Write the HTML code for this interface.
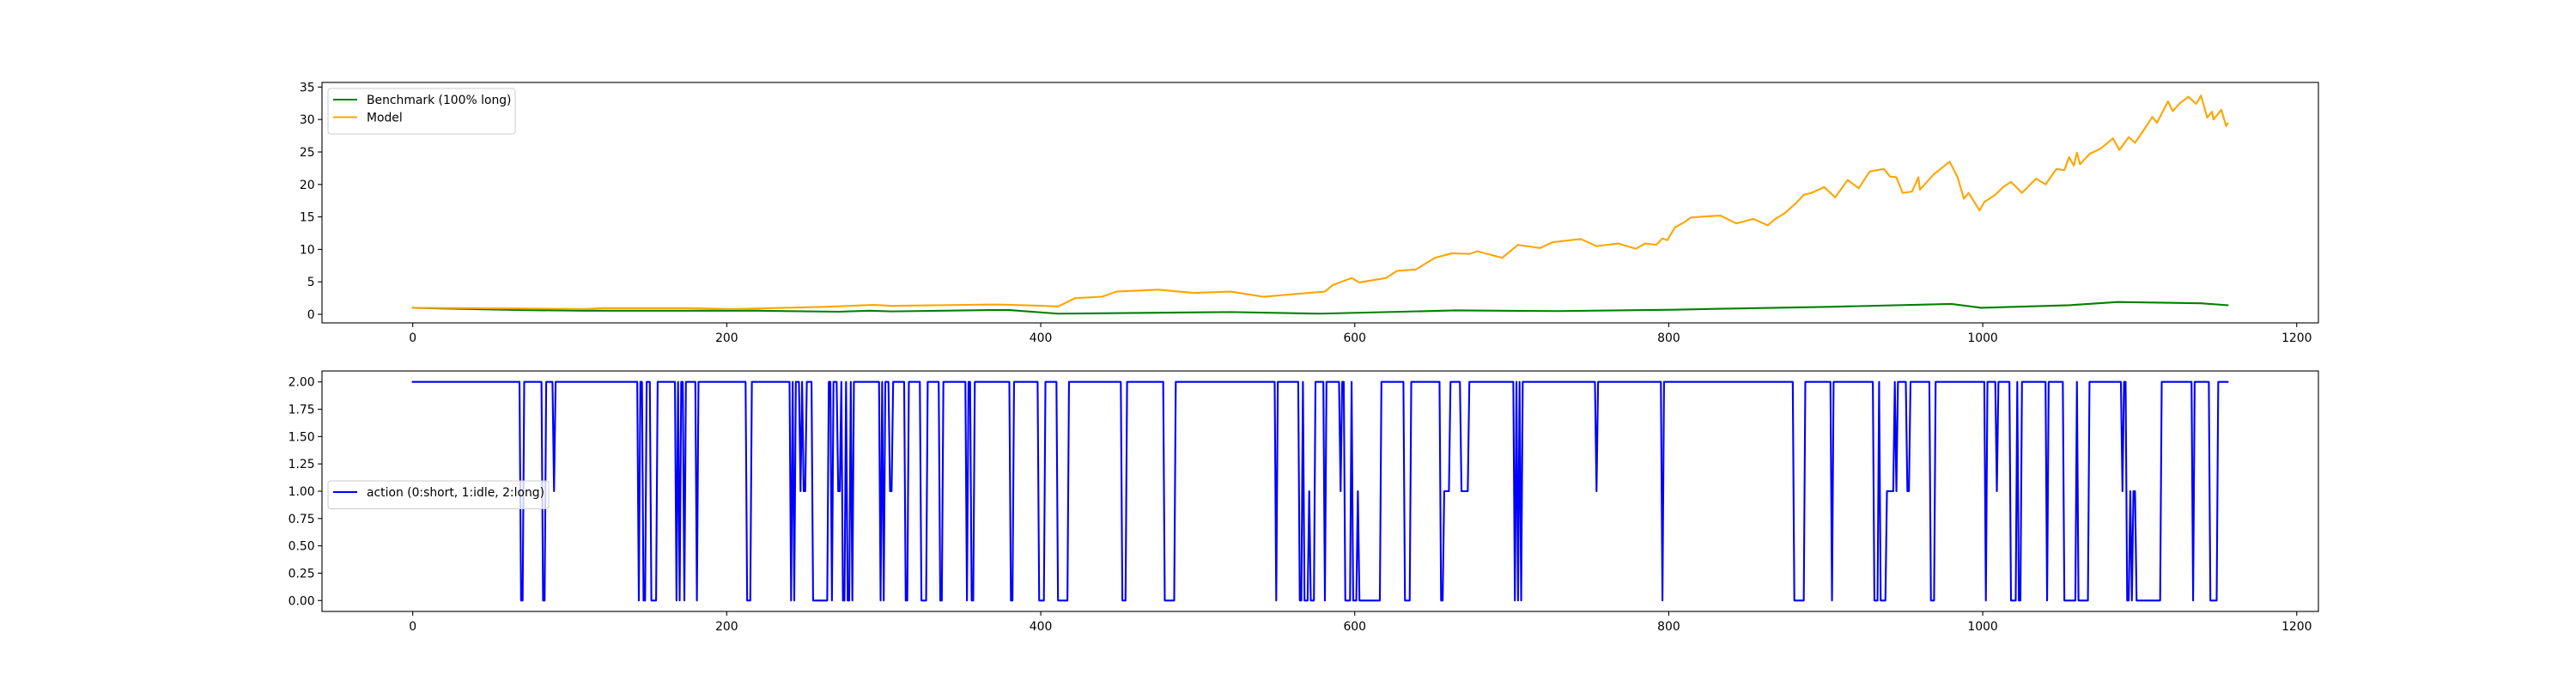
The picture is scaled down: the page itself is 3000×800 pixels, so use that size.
<!DOCTYPE html>
<html><head><meta charset="utf-8"><style>
html,body{margin:0;padding:0;background:#fff;}
svg{display:block;font-family:"DejaVu Sans","Liberation Sans",sans-serif;}
</style></head><body>
<svg id="chart" width="3000" height="800" viewBox="0 0 3000 800" xmlns="http://www.w3.org/2000/svg">
<rect width="3000" height="800" fill="#fff"/>
<g id="top"></g>
<g id="bot"></g>
</svg>
<script>
// ---- data ----
const modelSteps = [0,69,110,121,174,204,263,294,305,366,375,402,411,422,439,448,475,497,521,542,561,581,586,598,603,620,627,639,651,662,673,678,694,704,718,726,744,754,768,779,785,792,796,799,804,810,814,825,833,843,854,863,868,874,881,886,891,899,906,914,921,928,937,941,945,949,955,959,960,969,979,984,988,991,998,1001,1008,1013,1018,1025,1034,1040,1047,1052,1055,1058,1060,1062,1068,1075,1083,1087,1093,1097,1104,1108,1111,1118,1121,1126,1131,1136,1139,1143,1146,1147,1152,1155,1156];
const modelValues = [1.0,0.9,0.8,0.95,0.95,0.8,1.15,1.45,1.3,1.5,1.5,1.3,1.2,2.5,2.7,3.5,3.8,3.3,3.5,2.7,3.1,3.5,4.5,5.6,4.9,5.6,6.7,6.9,8.7,9.4,9.3,9.7,8.7,10.7,10.2,11.1,11.6,10.5,10.9,10.1,10.9,10.7,11.7,11.4,13.4,14.2,14.9,15.1,15.2,14.0,14.7,13.7,14.7,15.6,17.1,18.4,18.7,19.6,18.0,20.7,19.4,22.0,22.4,21.2,21.1,18.7,18.9,21.1,19.2,21.6,23.5,21.1,17.8,18.7,16.0,17.3,18.4,19.6,20.4,18.7,20.9,20.0,22.4,22.2,24.2,22.9,24.9,23.1,24.7,25.5,27.1,25.3,27.3,26.4,28.9,30.4,29.5,32.8,31.3,32.6,33.5,32.4,33.7,30.3,31.2,30.0,31.5,29.0,29.4];
const benchSteps = [0,69,110,221,271,291,305,366,380,411,521,578,664,729,803,832,902,980,999,1055,1086,1139,1156];
const benchValues = [1.0,0.65,0.55,0.55,0.4,0.55,0.45,0.65,0.65,0.1,0.35,0.1,0.6,0.5,0.7,0.85,1.15,1.6,1.0,1.4,1.9,1.7,1.4];
const actionRunStarts = [0,69,71,83,85,90,91,144,145,147,149,152,156,168,169,170,171,173,174,181,182,213,216,241,242,243,244,247,248,249,251,255,265,267,268,271,273,274,276,277,279,280,281,298,299,300,301,304,306,314,316,324,328,336,338,353,354,356,358,381,383,399,403,411,418,452,455,479,486,550,551,565,567,568,571,572,575,581,582,591,592,594,598,599,602,603,617,632,636,655,657,661,668,673,702,703,704,705,706,707,754,755,796,797,880,887,904,905,931,934,935,939,944,945,946,952,954,967,970,1002,1003,1009,1010,1018,1022,1023,1025,1041,1042,1052,1060,1061,1068,1089,1090,1092,1094,1095,1096,1098,1114,1134,1135,1145,1150];
const actionRunValues = [2,0,2,0,2,1,2,0,2,0,2,0,2,0,2,0,2,0,2,0,2,0,2,0,2,0,2,1,2,1,2,0,2,0,2,1,2,0,2,0,2,0,2,0,2,0,2,1,2,0,2,0,2,0,2,0,2,0,2,0,2,0,2,0,2,0,2,0,2,0,2,0,2,0,1,0,2,0,2,1,2,0,2,0,1,0,2,0,2,0,1,2,1,2,0,2,0,2,0,2,1,2,0,2,0,2,0,2,0,2,0,1,2,1,2,1,2,0,2,0,2,1,2,0,2,0,2,0,2,0,2,0,2,1,2,0,1,0,1,0,2,0,2,0,2];
const actionLastIndex = 1156;
const xTicks = [0,200,400,600,800,1000,1200];
const topYTicks = [0,5,10,15,20,25,30,35];
const botYTicks = [0,0.25,0.5,0.75,1.0,1.25,1.5,1.75,2.0];
const botYTickLabels = ["0.00","0.25","0.50","0.75","1.00","1.25","1.50","1.75","2.00"];

// ---- layout ----
const NS = "http://www.w3.org/2000/svg";
const L = 375, R = 2700;
const xMin = -57.8, xMax = 1213.8;
const X = v => L + (v - xMin) / (xMax - xMin) * (R - L);
function mk(parent, tag, attrs) {
  const e = document.createElementNS(NS, tag);
  for (const k in attrs) e.setAttribute(k, attrs[k]);
  parent.appendChild(e);
  return e;
}
function panel(g, top, bottom, yMin, yMax, yTicks, yLabels, prefix) {
  const Y = v => bottom - (v - yMin) / (yMax - yMin) * (bottom - top);
  const frame = mk(g, "rect", {x: L, y: top, width: R - L, height: bottom - top, fill: "none", stroke: "#000", "stroke-width": 1.1});
  
  
  xTicks.forEach(t => {
    const tk = mk(g, "line", {x1: X(t), x2: X(t), y1: bottom, y2: bottom + 4.9, stroke: "#000", "stroke-width": 1.1});
    
    
    const tx = mk(g, "text", {x: X(t), y: bottom + 22, "font-size": 13.9, "text-anchor": "middle", fill: "#000"});
    tx.textContent = t;
    
    
  });
  yTicks.forEach((t, i) => {
    const tk = mk(g, "line", {x1: L - 4.9, x2: L, y1: Y(t), y2: Y(t), stroke: "#000", "stroke-width": 1.1});
    
    
    const tx = mk(g, "text", {x: L - 8.4, y: Y(t) + 5, "font-size": 13.9, "text-anchor": "end", fill: "#000"});
    tx.textContent = yLabels ? yLabels[i] : t;
    
    
  });
  return Y;
}
function line(g, xs, ys, Y, color, name) {
  const d = xs.map((x, i) => (i ? "L" : "M") + X(x).toFixed(2) + "," + Y(ys[i]).toFixed(2)).join("");
  const p = mk(g, "path", {d: d, fill: "none", stroke: color, "stroke-width": 2.1, "stroke-linejoin": "round", "stroke-linecap": "square"});
  
  
}
function legend(g, x, y, w, entries, name) {
  const h = 12 + entries.length * 20.5;
  const box = mk(g, "rect", {x: x, y: y, width: w, height: h, rx: 3, fill: "#fff", "fill-opacity": 0.8, stroke: "#ccc", "stroke-width": 1});
  
  
  entries.forEach((e, i) => {
    const cy = y + 13 + i * 20.5;
    const ln = mk(g, "line", {x1: x + 6, x2: x + 34, y1: cy, y2: cy, stroke: e[1], "stroke-width": 2.1});
    
    
    const t = mk(g, "text", {x: x + 45, y: cy + 5, "font-size": 13.9, fill: "#000"});
    t.textContent = e[0];
    
    
  });
}

// top panel
const gt = document.getElementById("top");
const Yt = panel(gt, 96, 376, -1.32, 35.71, topYTicks, null, "top");
line(gt, benchSteps, benchValues, Yt, "#008000", "benchmark-line");
line(gt, modelSteps, modelValues, Yt, "#FFA500", "model-line");
legend(gt, 382, 103, 218, [["Benchmark (100% long)", "#008000"], ["Model", "#FFA500"]], "top-legend");

// bottom panel
const gb = document.getElementById("bot");
const Yb = panel(gb, 432, 712, -0.1, 2.1, botYTicks, botYTickLabels, "bottom");
const ax = [], ay = [];
actionRunStarts.forEach((s, i) => {
  const e = i + 1 < actionRunStarts.length ? actionRunStarts[i + 1] - 1 : actionLastIndex;
  ax.push(s); ay.push(actionRunValues[i]);
  if (e > s) { ax.push(e); ay.push(actionRunValues[i]); }
});
line(gb, ax, ay, Yb, "#0000FF", "action-line");
legend(gb, 382, 560, 257, [["action (0:short, 1:idle, 2:long)", "#0000FF"]], "bottom-legend");
</script>
</body></html>
